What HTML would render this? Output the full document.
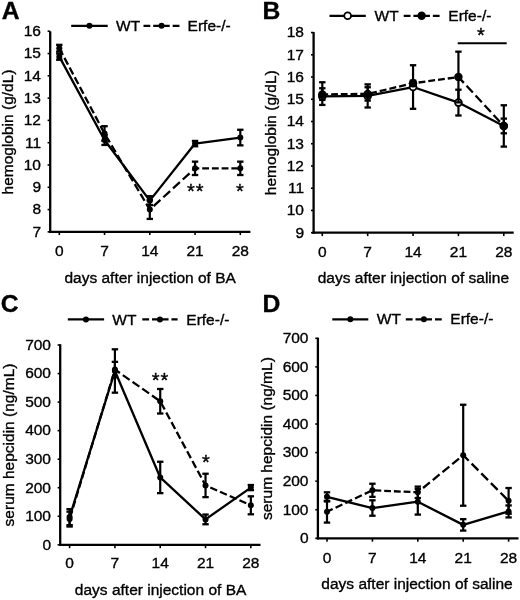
<!DOCTYPE html>
<html><head><meta charset="utf-8"><style>
html,body{margin:0;padding:0;background:#fff;overflow:hidden;}
svg{display:block;will-change:transform;}
text{font-family:"Liberation Sans",sans-serif;fill:#000;stroke:#000;stroke-width:0.35px;}
</style></head><body>
<svg width="520" height="600" viewBox="0 0 520 600">
<rect width="520" height="600" fill="#fff"/>
<line x1="50.20" y1="31.30" x2="50.20" y2="233.00" stroke="#000" stroke-width="2.3" />
<line x1="49.05" y1="231.85" x2="250.40" y2="231.85" stroke="#000" stroke-width="2.3" />
<line x1="47.60" y1="231.85" x2="50.20" y2="231.85" stroke="#000" stroke-width="1.6" />
<text x="41.00" y="236.66" text-anchor="end" font-size="15.5" font-weight="normal" >7</text>
<line x1="47.60" y1="209.56" x2="50.20" y2="209.56" stroke="#000" stroke-width="1.6" />
<text x="41.00" y="214.37" text-anchor="end" font-size="15.5" font-weight="normal" >8</text>
<line x1="47.60" y1="187.27" x2="50.20" y2="187.27" stroke="#000" stroke-width="1.6" />
<text x="41.00" y="192.07" text-anchor="end" font-size="15.5" font-weight="normal" >9</text>
<line x1="47.60" y1="164.98" x2="50.20" y2="164.98" stroke="#000" stroke-width="1.6" />
<text x="41.00" y="169.78" text-anchor="end" font-size="15.5" font-weight="normal" >10</text>
<line x1="47.60" y1="142.69" x2="50.20" y2="142.69" stroke="#000" stroke-width="1.6" />
<text x="41.00" y="147.50" text-anchor="end" font-size="15.5" font-weight="normal" >11</text>
<line x1="47.60" y1="120.40" x2="50.20" y2="120.40" stroke="#000" stroke-width="1.6" />
<text x="41.00" y="125.21" text-anchor="end" font-size="15.5" font-weight="normal" >12</text>
<line x1="47.60" y1="98.11" x2="50.20" y2="98.11" stroke="#000" stroke-width="1.6" />
<text x="41.00" y="102.91" text-anchor="end" font-size="15.5" font-weight="normal" >13</text>
<line x1="47.60" y1="75.82" x2="50.20" y2="75.82" stroke="#000" stroke-width="1.6" />
<text x="41.00" y="80.62" text-anchor="end" font-size="15.5" font-weight="normal" >14</text>
<line x1="47.60" y1="53.53" x2="50.20" y2="53.53" stroke="#000" stroke-width="1.6" />
<text x="41.00" y="58.34" text-anchor="end" font-size="15.5" font-weight="normal" >15</text>
<line x1="47.60" y1="31.24" x2="50.20" y2="31.24" stroke="#000" stroke-width="1.6" />
<text x="41.00" y="36.05" text-anchor="end" font-size="15.5" font-weight="normal" >16</text>
<line x1="59.30" y1="231.85" x2="59.30" y2="235.05" stroke="#000" stroke-width="1.6" />
<text x="59.30" y="255.90" text-anchor="middle" font-size="15.5" font-weight="normal" >0</text>
<line x1="104.55" y1="231.85" x2="104.55" y2="235.05" stroke="#000" stroke-width="1.6" />
<text x="104.55" y="255.90" text-anchor="middle" font-size="15.5" font-weight="normal" >7</text>
<line x1="149.80" y1="231.85" x2="149.80" y2="235.05" stroke="#000" stroke-width="1.6" />
<text x="149.80" y="255.90" text-anchor="middle" font-size="15.5" font-weight="normal" >14</text>
<line x1="195.05" y1="231.85" x2="195.05" y2="235.05" stroke="#000" stroke-width="1.6" />
<text x="195.05" y="255.90" text-anchor="middle" font-size="15.5" font-weight="normal" >21</text>
<line x1="240.30" y1="231.85" x2="240.30" y2="235.05" stroke="#000" stroke-width="1.6" />
<text x="240.30" y="255.90" text-anchor="middle" font-size="15.5" font-weight="normal" >28</text>
<text x="150.20" y="282.50" text-anchor="middle" font-size="15.5" font-weight="normal" >days after injection of BA</text>
<text transform="translate(12.60,132.00) rotate(-90)" text-anchor="middle" font-size="15.5">hemoglobin (g/dL)</text>
<text x="1.80" y="18.90" text-anchor="start" font-size="24.7" font-weight="bold" >A</text>
<line x1="71.20" y1="25.80" x2="107.70" y2="25.80" stroke="#000" stroke-width="2.3" />
<line x1="143.50" y1="25.80" x2="179.60" y2="25.80" stroke="#000" stroke-width="2.3" stroke-dasharray="6.8 2.92"/>
<circle cx="89.45" cy="25.80" r="3.0" fill="#000"/>
<circle cx="161.55" cy="25.80" r="3.0" fill="#000"/>
<text x="116.00" y="30.99" text-anchor="start" font-size="15.5" font-weight="normal" >WT</text>
<text x="187.60" y="30.99" text-anchor="start" font-size="15.5" font-weight="normal" >Erfe-/-</text>
<path d="M59.30,56.65 L104.55,140.02 L149.80,200.64 L195.05,143.58 L240.30,137.56" fill="none" stroke="#000" stroke-width="2.3" stroke-linejoin="round"/>
<line x1="59.30" y1="53.53" x2="59.30" y2="59.77" stroke="#000" stroke-width="2.2" />
<line x1="56.10" y1="53.53" x2="62.50" y2="53.53" stroke="#000" stroke-width="2.3" />
<line x1="56.10" y1="59.77" x2="62.50" y2="59.77" stroke="#000" stroke-width="2.3" />
<line x1="104.55" y1="135.11" x2="104.55" y2="144.92" stroke="#000" stroke-width="2.2" />
<line x1="101.35" y1="135.11" x2="107.75" y2="135.11" stroke="#000" stroke-width="2.3" />
<line x1="101.35" y1="144.92" x2="107.75" y2="144.92" stroke="#000" stroke-width="2.3" />
<line x1="149.80" y1="196.19" x2="149.80" y2="205.10" stroke="#000" stroke-width="2.2" />
<line x1="146.60" y1="196.19" x2="153.00" y2="196.19" stroke="#000" stroke-width="2.3" />
<line x1="146.60" y1="205.10" x2="153.00" y2="205.10" stroke="#000" stroke-width="2.3" />
<line x1="195.05" y1="140.91" x2="195.05" y2="146.26" stroke="#000" stroke-width="2.2" />
<line x1="191.85" y1="140.91" x2="198.25" y2="140.91" stroke="#000" stroke-width="2.3" />
<line x1="191.85" y1="146.26" x2="198.25" y2="146.26" stroke="#000" stroke-width="2.3" />
<line x1="240.30" y1="129.76" x2="240.30" y2="145.36" stroke="#000" stroke-width="2.2" />
<line x1="237.10" y1="129.76" x2="243.50" y2="129.76" stroke="#000" stroke-width="2.3" />
<line x1="237.10" y1="145.36" x2="243.50" y2="145.36" stroke="#000" stroke-width="2.3" />
<circle cx="59.30" cy="56.65" r="3.0" fill="#000"/>
<circle cx="104.55" cy="140.02" r="3.0" fill="#000"/>
<circle cx="149.80" cy="200.64" r="3.0" fill="#000"/>
<circle cx="195.05" cy="143.58" r="3.0" fill="#000"/>
<circle cx="240.30" cy="137.56" r="3.0" fill="#000"/>
<line x1="59.30" y1="48.18" x2="104.55" y2="133.55" stroke="#000" stroke-width="2.3" stroke-dasharray="7.696 3.305" stroke-dashoffset="0.068"/>
<line x1="104.55" y1="133.55" x2="149.80" y2="209.56" stroke="#000" stroke-width="2.3" stroke-dasharray="7.914 3.398" stroke-dashoffset="8.927"/>
<line x1="149.80" y1="209.56" x2="195.05" y2="168.32" stroke="#000" stroke-width="2.3" stroke-dasharray="9.200 3.951" stroke-dashoffset="8.009"/>
<line x1="195.05" y1="168.32" x2="240.30" y2="168.32" stroke="#000" stroke-width="2.3" stroke-dasharray="6.800 2.920" stroke-dashoffset="2.570"/>
<line x1="59.30" y1="44.84" x2="59.30" y2="51.52" stroke="#000" stroke-width="2.2" />
<line x1="56.10" y1="44.84" x2="62.50" y2="44.84" stroke="#000" stroke-width="2.3" />
<line x1="56.10" y1="51.52" x2="62.50" y2="51.52" stroke="#000" stroke-width="2.3" />
<line x1="104.55" y1="126.20" x2="104.55" y2="140.91" stroke="#000" stroke-width="2.2" />
<line x1="101.35" y1="126.20" x2="107.75" y2="126.20" stroke="#000" stroke-width="2.3" />
<line x1="101.35" y1="140.91" x2="107.75" y2="140.91" stroke="#000" stroke-width="2.3" />
<line x1="149.80" y1="200.20" x2="149.80" y2="218.92" stroke="#000" stroke-width="2.2" />
<line x1="146.60" y1="200.20" x2="153.00" y2="200.20" stroke="#000" stroke-width="2.3" />
<line x1="146.60" y1="218.92" x2="153.00" y2="218.92" stroke="#000" stroke-width="2.3" />
<line x1="195.05" y1="161.64" x2="195.05" y2="175.01" stroke="#000" stroke-width="2.2" />
<line x1="191.85" y1="161.64" x2="198.25" y2="161.64" stroke="#000" stroke-width="2.3" />
<line x1="191.85" y1="175.01" x2="198.25" y2="175.01" stroke="#000" stroke-width="2.3" />
<line x1="240.30" y1="161.64" x2="240.30" y2="175.01" stroke="#000" stroke-width="2.2" />
<line x1="237.10" y1="161.64" x2="243.50" y2="161.64" stroke="#000" stroke-width="2.3" />
<line x1="237.10" y1="175.01" x2="243.50" y2="175.01" stroke="#000" stroke-width="2.3" />
<circle cx="59.30" cy="48.18" r="3.0" fill="#000"/>
<circle cx="104.55" cy="133.55" r="3.0" fill="#000"/>
<circle cx="149.80" cy="209.56" r="3.0" fill="#000"/>
<circle cx="195.05" cy="168.32" r="3.0" fill="#000"/>
<circle cx="240.30" cy="168.32" r="3.0" fill="#000"/>
<text x="195.70" y="198.10" text-anchor="middle" font-size="20" letter-spacing="0.9">**</text>
<text x="239.80" y="198.10" text-anchor="middle" font-size="20" letter-spacing="0">*</text>
<line x1="313.60" y1="32.00" x2="313.60" y2="233.85" stroke="#000" stroke-width="2.3" />
<line x1="312.45" y1="232.70" x2="513.70" y2="232.70" stroke="#000" stroke-width="2.3" />
<line x1="311.00" y1="232.70" x2="313.60" y2="232.70" stroke="#000" stroke-width="1.6" />
<text x="304.00" y="237.50" text-anchor="end" font-size="15.5" font-weight="normal" >9</text>
<line x1="311.00" y1="210.46" x2="313.60" y2="210.46" stroke="#000" stroke-width="1.6" />
<text x="304.00" y="215.26" text-anchor="end" font-size="15.5" font-weight="normal" >10</text>
<line x1="311.00" y1="188.22" x2="313.60" y2="188.22" stroke="#000" stroke-width="1.6" />
<text x="304.00" y="193.03" text-anchor="end" font-size="15.5" font-weight="normal" >11</text>
<line x1="311.00" y1="165.98" x2="313.60" y2="165.98" stroke="#000" stroke-width="1.6" />
<text x="304.00" y="170.78" text-anchor="end" font-size="15.5" font-weight="normal" >12</text>
<line x1="311.00" y1="143.74" x2="313.60" y2="143.74" stroke="#000" stroke-width="1.6" />
<text x="304.00" y="148.55" text-anchor="end" font-size="15.5" font-weight="normal" >13</text>
<line x1="311.00" y1="121.50" x2="313.60" y2="121.50" stroke="#000" stroke-width="1.6" />
<text x="304.00" y="126.31" text-anchor="end" font-size="15.5" font-weight="normal" >14</text>
<line x1="311.00" y1="99.26" x2="313.60" y2="99.26" stroke="#000" stroke-width="1.6" />
<text x="304.00" y="104.06" text-anchor="end" font-size="15.5" font-weight="normal" >15</text>
<line x1="311.00" y1="77.02" x2="313.60" y2="77.02" stroke="#000" stroke-width="1.6" />
<text x="304.00" y="81.83" text-anchor="end" font-size="15.5" font-weight="normal" >16</text>
<line x1="311.00" y1="54.78" x2="313.60" y2="54.78" stroke="#000" stroke-width="1.6" />
<text x="304.00" y="59.59" text-anchor="end" font-size="15.5" font-weight="normal" >17</text>
<line x1="311.00" y1="32.54" x2="313.60" y2="32.54" stroke="#000" stroke-width="1.6" />
<text x="304.00" y="37.34" text-anchor="end" font-size="15.5" font-weight="normal" >18</text>
<line x1="322.30" y1="232.70" x2="322.30" y2="236.10" stroke="#000" stroke-width="1.6" />
<text x="322.30" y="257.00" text-anchor="middle" font-size="15.5" font-weight="normal" >0</text>
<line x1="367.68" y1="232.70" x2="367.68" y2="236.10" stroke="#000" stroke-width="1.6" />
<text x="367.68" y="257.00" text-anchor="middle" font-size="15.5" font-weight="normal" >7</text>
<line x1="413.05" y1="232.70" x2="413.05" y2="236.10" stroke="#000" stroke-width="1.6" />
<text x="413.05" y="257.00" text-anchor="middle" font-size="15.5" font-weight="normal" >14</text>
<line x1="458.43" y1="232.70" x2="458.43" y2="236.10" stroke="#000" stroke-width="1.6" />
<text x="458.43" y="257.00" text-anchor="middle" font-size="15.5" font-weight="normal" >21</text>
<line x1="503.80" y1="232.70" x2="503.80" y2="236.10" stroke="#000" stroke-width="1.6" />
<text x="503.80" y="257.00" text-anchor="middle" font-size="15.5" font-weight="normal" >28</text>
<text x="413.40" y="283.00" text-anchor="middle" font-size="15.5" font-weight="normal" >days after injection of saline</text>
<text transform="translate(275.60,132.70) rotate(-90)" text-anchor="middle" font-size="15.5">hemoglobin (g/dL)</text>
<text x="262.50" y="19.00" text-anchor="start" font-size="24.7" font-weight="bold" >B</text>
<line x1="329.50" y1="15.80" x2="365.80" y2="15.80" stroke="#000" stroke-width="2.3" />
<line x1="403.70" y1="15.80" x2="439.60" y2="15.80" stroke="#000" stroke-width="2.3" stroke-dasharray="6.8 2.92"/>
<circle cx="347.65" cy="15.80" r="3.4" fill="#fff" stroke="#000" stroke-width="1.8"/>
<circle cx="421.65" cy="15.80" r="4.2" fill="#000"/>
<text x="374.60" y="20.99" text-anchor="start" font-size="15.5" font-weight="normal" >WT</text>
<text x="448.30" y="20.99" text-anchor="start" font-size="15.5" font-weight="normal" >Erfe-/-</text>
<path d="M322.30,96.37 L367.68,95.92 L413.05,87.03 L458.43,102.60 L503.80,125.95" fill="none" stroke="#000" stroke-width="2.3" stroke-linejoin="round"/>
<line x1="322.30" y1="88.25" x2="322.30" y2="104.93" stroke="#000" stroke-width="2.2" />
<line x1="319.10" y1="88.25" x2="325.50" y2="88.25" stroke="#000" stroke-width="2.3" />
<line x1="319.10" y1="104.93" x2="325.50" y2="104.93" stroke="#000" stroke-width="2.3" />
<line x1="367.68" y1="84.36" x2="367.68" y2="107.49" stroke="#000" stroke-width="2.2" />
<line x1="364.48" y1="84.36" x2="370.88" y2="84.36" stroke="#000" stroke-width="2.3" />
<line x1="364.48" y1="107.49" x2="370.88" y2="107.49" stroke="#000" stroke-width="2.3" />
<line x1="413.05" y1="65.23" x2="413.05" y2="108.82" stroke="#000" stroke-width="2.2" />
<line x1="409.85" y1="65.23" x2="416.25" y2="65.23" stroke="#000" stroke-width="2.3" />
<line x1="409.85" y1="108.82" x2="416.25" y2="108.82" stroke="#000" stroke-width="2.3" />
<line x1="458.43" y1="89.70" x2="458.43" y2="115.50" stroke="#000" stroke-width="2.2" />
<line x1="455.23" y1="89.70" x2="461.62" y2="89.70" stroke="#000" stroke-width="2.3" />
<line x1="455.23" y1="115.50" x2="461.62" y2="115.50" stroke="#000" stroke-width="2.3" />
<line x1="503.80" y1="118.61" x2="503.80" y2="133.29" stroke="#000" stroke-width="2.2" />
<line x1="500.60" y1="118.61" x2="507.00" y2="118.61" stroke="#000" stroke-width="2.3" />
<line x1="500.60" y1="133.29" x2="507.00" y2="133.29" stroke="#000" stroke-width="2.3" />
<circle cx="322.30" cy="96.37" r="3.4" fill="#fff" stroke="#000" stroke-width="1.8"/>
<circle cx="367.68" cy="95.92" r="3.4" fill="#fff" stroke="#000" stroke-width="1.8"/>
<circle cx="413.05" cy="87.03" r="3.4" fill="#fff" stroke="#000" stroke-width="1.8"/>
<circle cx="458.43" cy="102.60" r="3.4" fill="#fff" stroke="#000" stroke-width="1.8"/>
<circle cx="503.80" cy="125.95" r="3.4" fill="#fff" stroke="#000" stroke-width="1.8"/>
<line x1="322.30" y1="94.37" x2="367.68" y2="93.92" stroke="#000" stroke-width="2.3" stroke-dasharray="6.800 2.920" stroke-dashoffset="0.930"/>
<line x1="367.68" y1="93.92" x2="413.05" y2="83.25" stroke="#000" stroke-width="2.3" stroke-dasharray="6.986 3.000" stroke-dashoffset="7.628"/>
<line x1="413.05" y1="83.25" x2="458.43" y2="77.02" stroke="#000" stroke-width="2.3" stroke-dasharray="6.864 2.947" stroke-dashoffset="4.239"/>
<line x1="458.43" y1="77.02" x2="503.80" y2="125.95" stroke="#000" stroke-width="2.3" stroke-dasharray="9.274 3.982" stroke-dashoffset="1.330"/>
<line x1="322.30" y1="82.25" x2="322.30" y2="99.93" stroke="#000" stroke-width="2.2" />
<line x1="319.10" y1="82.25" x2="325.50" y2="82.25" stroke="#000" stroke-width="2.3" />
<line x1="319.10" y1="99.93" x2="325.50" y2="99.93" stroke="#000" stroke-width="2.3" />
<line x1="367.68" y1="87.25" x2="367.68" y2="100.59" stroke="#000" stroke-width="2.2" />
<line x1="364.48" y1="87.25" x2="370.88" y2="87.25" stroke="#000" stroke-width="2.3" />
<line x1="364.48" y1="100.59" x2="370.88" y2="100.59" stroke="#000" stroke-width="2.3" />
<line x1="413.05" y1="80.58" x2="413.05" y2="85.92" stroke="#000" stroke-width="2.2" />
<line x1="409.85" y1="80.58" x2="416.25" y2="80.58" stroke="#000" stroke-width="2.3" />
<line x1="409.85" y1="85.92" x2="416.25" y2="85.92" stroke="#000" stroke-width="2.3" />
<line x1="458.43" y1="51.67" x2="458.43" y2="102.37" stroke="#000" stroke-width="2.2" />
<line x1="455.23" y1="51.67" x2="461.62" y2="51.67" stroke="#000" stroke-width="2.3" />
<line x1="455.23" y1="102.37" x2="461.62" y2="102.37" stroke="#000" stroke-width="2.3" />
<line x1="503.80" y1="105.26" x2="503.80" y2="146.63" stroke="#000" stroke-width="2.2" />
<line x1="500.60" y1="105.26" x2="507.00" y2="105.26" stroke="#000" stroke-width="2.3" />
<line x1="500.60" y1="146.63" x2="507.00" y2="146.63" stroke="#000" stroke-width="2.3" />
<circle cx="322.30" cy="94.37" r="4.2" fill="#000"/>
<circle cx="367.68" cy="93.92" r="4.2" fill="#000"/>
<circle cx="413.05" cy="83.25" r="4.2" fill="#000"/>
<circle cx="458.43" cy="77.02" r="4.2" fill="#000"/>
<circle cx="503.80" cy="125.95" r="4.2" fill="#000"/>
<text x="481.00" y="42.10" text-anchor="middle" font-size="20" letter-spacing="0">*</text>
<line x1="457.70" y1="43.30" x2="506.70" y2="43.30" stroke="#000" stroke-width="2.0" />
<line x1="60.20" y1="344.20" x2="60.20" y2="545.95" stroke="#000" stroke-width="2.3" />
<line x1="59.05" y1="544.80" x2="260.50" y2="544.80" stroke="#000" stroke-width="2.3" />
<line x1="57.60" y1="544.80" x2="60.20" y2="544.80" stroke="#000" stroke-width="1.6" />
<text x="51.00" y="549.60" text-anchor="end" font-size="15.5" font-weight="normal" >0</text>
<line x1="57.60" y1="516.26" x2="60.20" y2="516.26" stroke="#000" stroke-width="1.6" />
<text x="51.00" y="521.06" text-anchor="end" font-size="15.5" font-weight="normal" >100</text>
<line x1="57.60" y1="487.72" x2="60.20" y2="487.72" stroke="#000" stroke-width="1.6" />
<text x="51.00" y="492.52" text-anchor="end" font-size="15.5" font-weight="normal" >200</text>
<line x1="57.60" y1="459.18" x2="60.20" y2="459.18" stroke="#000" stroke-width="1.6" />
<text x="51.00" y="463.98" text-anchor="end" font-size="15.5" font-weight="normal" >300</text>
<line x1="57.60" y1="430.64" x2="60.20" y2="430.64" stroke="#000" stroke-width="1.6" />
<text x="51.00" y="435.44" text-anchor="end" font-size="15.5" font-weight="normal" >400</text>
<line x1="57.60" y1="402.10" x2="60.20" y2="402.10" stroke="#000" stroke-width="1.6" />
<text x="51.00" y="406.90" text-anchor="end" font-size="15.5" font-weight="normal" >500</text>
<line x1="57.60" y1="373.56" x2="60.20" y2="373.56" stroke="#000" stroke-width="1.6" />
<text x="51.00" y="378.36" text-anchor="end" font-size="15.5" font-weight="normal" >600</text>
<line x1="57.60" y1="345.02" x2="60.20" y2="345.02" stroke="#000" stroke-width="1.6" />
<text x="51.00" y="349.82" text-anchor="end" font-size="15.5" font-weight="normal" >700</text>
<line x1="69.60" y1="544.80" x2="69.60" y2="548.20" stroke="#000" stroke-width="1.6" />
<text x="69.60" y="568.20" text-anchor="middle" font-size="15.5" font-weight="normal" >0</text>
<line x1="114.91" y1="544.80" x2="114.91" y2="548.20" stroke="#000" stroke-width="1.6" />
<text x="114.91" y="568.20" text-anchor="middle" font-size="15.5" font-weight="normal" >7</text>
<line x1="160.22" y1="544.80" x2="160.22" y2="548.20" stroke="#000" stroke-width="1.6" />
<text x="160.22" y="568.20" text-anchor="middle" font-size="15.5" font-weight="normal" >14</text>
<line x1="205.53" y1="544.80" x2="205.53" y2="548.20" stroke="#000" stroke-width="1.6" />
<text x="205.53" y="568.20" text-anchor="middle" font-size="15.5" font-weight="normal" >21</text>
<line x1="250.84" y1="544.80" x2="250.84" y2="548.20" stroke="#000" stroke-width="1.6" />
<text x="250.84" y="568.20" text-anchor="middle" font-size="15.5" font-weight="normal" >28</text>
<text x="160.60" y="595.00" text-anchor="middle" font-size="15.5" font-weight="normal" >days after injection of BA</text>
<text transform="translate(13.90,445.00) rotate(-90)" text-anchor="middle" font-size="15.5">serum hepcidin (ng/mL)</text>
<text x="0.80" y="312.20" text-anchor="start" font-size="24.7" font-weight="bold" >C</text>
<line x1="67.80" y1="319.40" x2="104.10" y2="319.40" stroke="#000" stroke-width="2.3" />
<line x1="142.30" y1="319.40" x2="177.60" y2="319.40" stroke="#000" stroke-width="2.3" stroke-dasharray="6.8 2.92"/>
<circle cx="85.95" cy="319.40" r="3.0" fill="#000"/>
<circle cx="159.95" cy="319.40" r="3.0" fill="#000"/>
<text x="112.30" y="324.59" text-anchor="start" font-size="15.5" font-weight="normal" >WT</text>
<text x="186.30" y="324.59" text-anchor="start" font-size="15.5" font-weight="normal" >Erfe-/-</text>
<path d="M69.60,517.12 L114.91,370.99 L160.22,477.45 L205.53,519.40 L250.84,487.58" fill="none" stroke="#000" stroke-width="2.3" stroke-linejoin="round"/>
<line x1="69.60" y1="509.12" x2="69.60" y2="525.11" stroke="#000" stroke-width="2.2" />
<line x1="66.40" y1="509.12" x2="72.80" y2="509.12" stroke="#000" stroke-width="2.3" />
<line x1="66.40" y1="525.11" x2="72.80" y2="525.11" stroke="#000" stroke-width="2.3" />
<line x1="114.91" y1="349.30" x2="114.91" y2="392.68" stroke="#000" stroke-width="2.2" />
<line x1="111.71" y1="349.30" x2="118.11" y2="349.30" stroke="#000" stroke-width="2.3" />
<line x1="111.71" y1="392.68" x2="118.11" y2="392.68" stroke="#000" stroke-width="2.3" />
<line x1="160.22" y1="461.75" x2="160.22" y2="493.14" stroke="#000" stroke-width="2.2" />
<line x1="157.02" y1="461.75" x2="163.42" y2="461.75" stroke="#000" stroke-width="2.3" />
<line x1="157.02" y1="493.14" x2="163.42" y2="493.14" stroke="#000" stroke-width="2.3" />
<line x1="205.53" y1="514.55" x2="205.53" y2="524.25" stroke="#000" stroke-width="2.2" />
<line x1="202.33" y1="514.55" x2="208.73" y2="514.55" stroke="#000" stroke-width="2.3" />
<line x1="202.33" y1="524.25" x2="208.73" y2="524.25" stroke="#000" stroke-width="2.3" />
<line x1="250.84" y1="485.01" x2="250.84" y2="490.15" stroke="#000" stroke-width="2.2" />
<line x1="247.64" y1="485.01" x2="254.04" y2="485.01" stroke="#000" stroke-width="2.3" />
<line x1="247.64" y1="490.15" x2="254.04" y2="490.15" stroke="#000" stroke-width="2.3" />
<circle cx="69.60" cy="517.12" r="3.0" fill="#000"/>
<circle cx="114.91" cy="370.99" r="3.0" fill="#000"/>
<circle cx="160.22" cy="477.45" r="3.0" fill="#000"/>
<circle cx="205.53" cy="519.40" r="3.0" fill="#000"/>
<circle cx="250.84" cy="487.58" r="3.0" fill="#000"/>
<line x1="69.60" y1="519.11" x2="114.91" y2="369.56" stroke="#000" stroke-width="2.3" stroke-dasharray="7.105 3.051" stroke-dashoffset="8.140"/>
<line x1="114.91" y1="369.56" x2="160.22" y2="401.24" stroke="#000" stroke-width="2.3" stroke-dasharray="8.297 3.563" stroke-dashoffset="2.220"/>
<line x1="160.22" y1="401.24" x2="205.53" y2="485.44" stroke="#000" stroke-width="2.3" stroke-dasharray="7.722 3.316" stroke-dashoffset="9.368"/>
<line x1="205.53" y1="485.44" x2="250.84" y2="505.30" stroke="#000" stroke-width="2.3" stroke-dasharray="7.425 3.188" stroke-dashoffset="5.419"/>
<line x1="69.60" y1="511.69" x2="69.60" y2="526.53" stroke="#000" stroke-width="2.2" />
<line x1="66.40" y1="511.69" x2="72.80" y2="511.69" stroke="#000" stroke-width="2.3" />
<line x1="66.40" y1="526.53" x2="72.80" y2="526.53" stroke="#000" stroke-width="2.3" />
<line x1="114.91" y1="361.86" x2="114.91" y2="377.27" stroke="#000" stroke-width="2.2" />
<line x1="111.71" y1="361.86" x2="118.11" y2="361.86" stroke="#000" stroke-width="2.3" />
<line x1="111.71" y1="377.27" x2="118.11" y2="377.27" stroke="#000" stroke-width="2.3" />
<line x1="160.22" y1="388.97" x2="160.22" y2="413.52" stroke="#000" stroke-width="2.2" />
<line x1="157.02" y1="388.97" x2="163.42" y2="388.97" stroke="#000" stroke-width="2.3" />
<line x1="157.02" y1="413.52" x2="163.42" y2="413.52" stroke="#000" stroke-width="2.3" />
<line x1="205.53" y1="473.74" x2="205.53" y2="497.14" stroke="#000" stroke-width="2.2" />
<line x1="202.33" y1="473.74" x2="208.73" y2="473.74" stroke="#000" stroke-width="2.3" />
<line x1="202.33" y1="497.14" x2="208.73" y2="497.14" stroke="#000" stroke-width="2.3" />
<line x1="250.84" y1="496.31" x2="250.84" y2="514.29" stroke="#000" stroke-width="2.2" />
<line x1="247.64" y1="496.31" x2="254.04" y2="496.31" stroke="#000" stroke-width="2.3" />
<line x1="247.64" y1="514.29" x2="254.04" y2="514.29" stroke="#000" stroke-width="2.3" />
<circle cx="69.60" cy="519.11" r="3.0" fill="#000"/>
<circle cx="114.91" cy="369.56" r="3.0" fill="#000"/>
<circle cx="160.22" cy="401.24" r="3.0" fill="#000"/>
<circle cx="205.53" cy="485.44" r="3.0" fill="#000"/>
<circle cx="250.84" cy="505.30" r="3.0" fill="#000"/>
<text x="160.40" y="387.30" text-anchor="middle" font-size="20" letter-spacing="0.9">**</text>
<text x="205.90" y="468.90" text-anchor="middle" font-size="20" letter-spacing="0">*</text>
<line x1="317.90" y1="337.70" x2="317.90" y2="539.45" stroke="#000" stroke-width="2.3" />
<line x1="316.75" y1="538.30" x2="518.50" y2="538.30" stroke="#000" stroke-width="2.3" />
<line x1="315.30" y1="538.30" x2="317.90" y2="538.30" stroke="#000" stroke-width="1.6" />
<text x="308.50" y="543.10" text-anchor="end" font-size="15.5" font-weight="normal" >0</text>
<line x1="315.30" y1="509.73" x2="317.90" y2="509.73" stroke="#000" stroke-width="1.6" />
<text x="308.50" y="514.53" text-anchor="end" font-size="15.5" font-weight="normal" >100</text>
<line x1="315.30" y1="481.16" x2="317.90" y2="481.16" stroke="#000" stroke-width="1.6" />
<text x="308.50" y="485.96" text-anchor="end" font-size="15.5" font-weight="normal" >200</text>
<line x1="315.30" y1="452.59" x2="317.90" y2="452.59" stroke="#000" stroke-width="1.6" />
<text x="308.50" y="457.39" text-anchor="end" font-size="15.5" font-weight="normal" >300</text>
<line x1="315.30" y1="424.02" x2="317.90" y2="424.02" stroke="#000" stroke-width="1.6" />
<text x="308.50" y="428.82" text-anchor="end" font-size="15.5" font-weight="normal" >400</text>
<line x1="315.30" y1="395.45" x2="317.90" y2="395.45" stroke="#000" stroke-width="1.6" />
<text x="308.50" y="400.25" text-anchor="end" font-size="15.5" font-weight="normal" >500</text>
<line x1="315.30" y1="366.88" x2="317.90" y2="366.88" stroke="#000" stroke-width="1.6" />
<text x="308.50" y="371.68" text-anchor="end" font-size="15.5" font-weight="normal" >600</text>
<line x1="315.30" y1="338.31" x2="317.90" y2="338.31" stroke="#000" stroke-width="1.6" />
<text x="308.50" y="343.11" text-anchor="end" font-size="15.5" font-weight="normal" >700</text>
<line x1="327.00" y1="538.30" x2="327.00" y2="541.70" stroke="#000" stroke-width="1.6" />
<text x="327.00" y="563.00" text-anchor="middle" font-size="15.5" font-weight="normal" >0</text>
<line x1="372.40" y1="538.30" x2="372.40" y2="541.70" stroke="#000" stroke-width="1.6" />
<text x="372.40" y="563.00" text-anchor="middle" font-size="15.5" font-weight="normal" >7</text>
<line x1="417.80" y1="538.30" x2="417.80" y2="541.70" stroke="#000" stroke-width="1.6" />
<text x="417.80" y="563.00" text-anchor="middle" font-size="15.5" font-weight="normal" >14</text>
<line x1="463.20" y1="538.30" x2="463.20" y2="541.70" stroke="#000" stroke-width="1.6" />
<text x="463.20" y="563.00" text-anchor="middle" font-size="15.5" font-weight="normal" >21</text>
<line x1="508.60" y1="538.30" x2="508.60" y2="541.70" stroke="#000" stroke-width="1.6" />
<text x="508.60" y="563.00" text-anchor="middle" font-size="15.5" font-weight="normal" >28</text>
<text x="417.00" y="589.20" text-anchor="middle" font-size="15.5" font-weight="normal" >days after injection of saline</text>
<text transform="translate(271.80,438.60) rotate(-90)" text-anchor="middle" font-size="15.5">serum hepcidin (ng/mL)</text>
<text x="262.50" y="311.50" text-anchor="start" font-size="24.7" font-weight="bold" >D</text>
<line x1="332.30" y1="319.30" x2="368.30" y2="319.30" stroke="#000" stroke-width="2.3" />
<line x1="405.80" y1="319.30" x2="441.90" y2="319.30" stroke="#000" stroke-width="2.3" stroke-dasharray="6.8 2.92"/>
<circle cx="350.30" cy="319.30" r="3.0" fill="#000"/>
<circle cx="423.85" cy="319.30" r="3.0" fill="#000"/>
<text x="376.80" y="324.49" text-anchor="start" font-size="15.5" font-weight="normal" >WT</text>
<text x="450.30" y="324.49" text-anchor="start" font-size="15.5" font-weight="normal" >Erfe-/-</text>
<path d="M327.00,496.87 L372.40,508.02 L417.80,501.73 L463.20,524.87 L508.60,511.44" fill="none" stroke="#000" stroke-width="2.3" stroke-linejoin="round"/>
<line x1="327.00" y1="492.30" x2="327.00" y2="501.44" stroke="#000" stroke-width="2.2" />
<line x1="323.80" y1="492.30" x2="330.20" y2="492.30" stroke="#000" stroke-width="2.3" />
<line x1="323.80" y1="501.44" x2="330.20" y2="501.44" stroke="#000" stroke-width="2.3" />
<line x1="372.40" y1="500.30" x2="372.40" y2="515.73" stroke="#000" stroke-width="2.2" />
<line x1="369.20" y1="500.30" x2="375.60" y2="500.30" stroke="#000" stroke-width="2.3" />
<line x1="369.20" y1="515.73" x2="375.60" y2="515.73" stroke="#000" stroke-width="2.3" />
<line x1="417.80" y1="488.87" x2="417.80" y2="514.59" stroke="#000" stroke-width="2.2" />
<line x1="414.60" y1="488.87" x2="421.00" y2="488.87" stroke="#000" stroke-width="2.3" />
<line x1="414.60" y1="514.59" x2="421.00" y2="514.59" stroke="#000" stroke-width="2.3" />
<line x1="463.20" y1="519.16" x2="463.20" y2="530.59" stroke="#000" stroke-width="2.2" />
<line x1="460.00" y1="519.16" x2="466.40" y2="519.16" stroke="#000" stroke-width="2.3" />
<line x1="460.00" y1="530.59" x2="466.40" y2="530.59" stroke="#000" stroke-width="2.3" />
<line x1="508.60" y1="505.44" x2="508.60" y2="517.44" stroke="#000" stroke-width="2.2" />
<line x1="505.40" y1="505.44" x2="511.80" y2="505.44" stroke="#000" stroke-width="2.3" />
<line x1="505.40" y1="517.44" x2="511.80" y2="517.44" stroke="#000" stroke-width="2.3" />
<circle cx="327.00" cy="496.87" r="3.0" fill="#000"/>
<circle cx="372.40" cy="508.02" r="3.0" fill="#000"/>
<circle cx="417.80" cy="501.73" r="3.0" fill="#000"/>
<circle cx="463.20" cy="524.87" r="3.0" fill="#000"/>
<circle cx="508.60" cy="511.44" r="3.0" fill="#000"/>
<line x1="327.00" y1="511.73" x2="372.40" y2="490.30" stroke="#000" stroke-width="2.3" stroke-dasharray="7.519 3.229" stroke-dashoffset="1.250"/>
<line x1="372.40" y1="490.30" x2="417.80" y2="492.30" stroke="#000" stroke-width="2.3" stroke-dasharray="6.807 2.923" stroke-dashoffset="7.657"/>
<line x1="417.80" y1="492.30" x2="463.20" y2="455.16" stroke="#000" stroke-width="2.3" stroke-dasharray="8.786 3.773" stroke-dashoffset="5.749"/>
<line x1="463.20" y1="455.16" x2="508.60" y2="500.87" stroke="#000" stroke-width="2.3" stroke-dasharray="9.584 4.115" stroke-dashoffset="1.762"/>
<line x1="327.00" y1="500.87" x2="327.00" y2="522.59" stroke="#000" stroke-width="2.2" />
<line x1="323.80" y1="500.87" x2="330.20" y2="500.87" stroke="#000" stroke-width="2.3" />
<line x1="323.80" y1="522.59" x2="330.20" y2="522.59" stroke="#000" stroke-width="2.3" />
<line x1="372.40" y1="483.73" x2="372.40" y2="496.87" stroke="#000" stroke-width="2.2" />
<line x1="369.20" y1="483.73" x2="375.60" y2="483.73" stroke="#000" stroke-width="2.3" />
<line x1="369.20" y1="496.87" x2="375.60" y2="496.87" stroke="#000" stroke-width="2.3" />
<line x1="417.80" y1="486.59" x2="417.80" y2="498.02" stroke="#000" stroke-width="2.2" />
<line x1="414.60" y1="486.59" x2="421.00" y2="486.59" stroke="#000" stroke-width="2.3" />
<line x1="414.60" y1="498.02" x2="421.00" y2="498.02" stroke="#000" stroke-width="2.3" />
<line x1="463.20" y1="404.74" x2="463.20" y2="505.73" stroke="#000" stroke-width="2.2" />
<line x1="460.00" y1="404.74" x2="466.40" y2="404.74" stroke="#000" stroke-width="2.3" />
<line x1="460.00" y1="505.73" x2="466.40" y2="505.73" stroke="#000" stroke-width="2.3" />
<line x1="508.60" y1="488.02" x2="508.60" y2="513.73" stroke="#000" stroke-width="2.2" />
<line x1="505.40" y1="488.02" x2="511.80" y2="488.02" stroke="#000" stroke-width="2.3" />
<line x1="505.40" y1="513.73" x2="511.80" y2="513.73" stroke="#000" stroke-width="2.3" />
<circle cx="327.00" cy="511.73" r="3.0" fill="#000"/>
<circle cx="372.40" cy="490.30" r="3.0" fill="#000"/>
<circle cx="417.80" cy="492.30" r="3.0" fill="#000"/>
<circle cx="463.20" cy="455.16" r="3.0" fill="#000"/>
<circle cx="508.60" cy="500.87" r="3.0" fill="#000"/>
</svg>
</body></html>
